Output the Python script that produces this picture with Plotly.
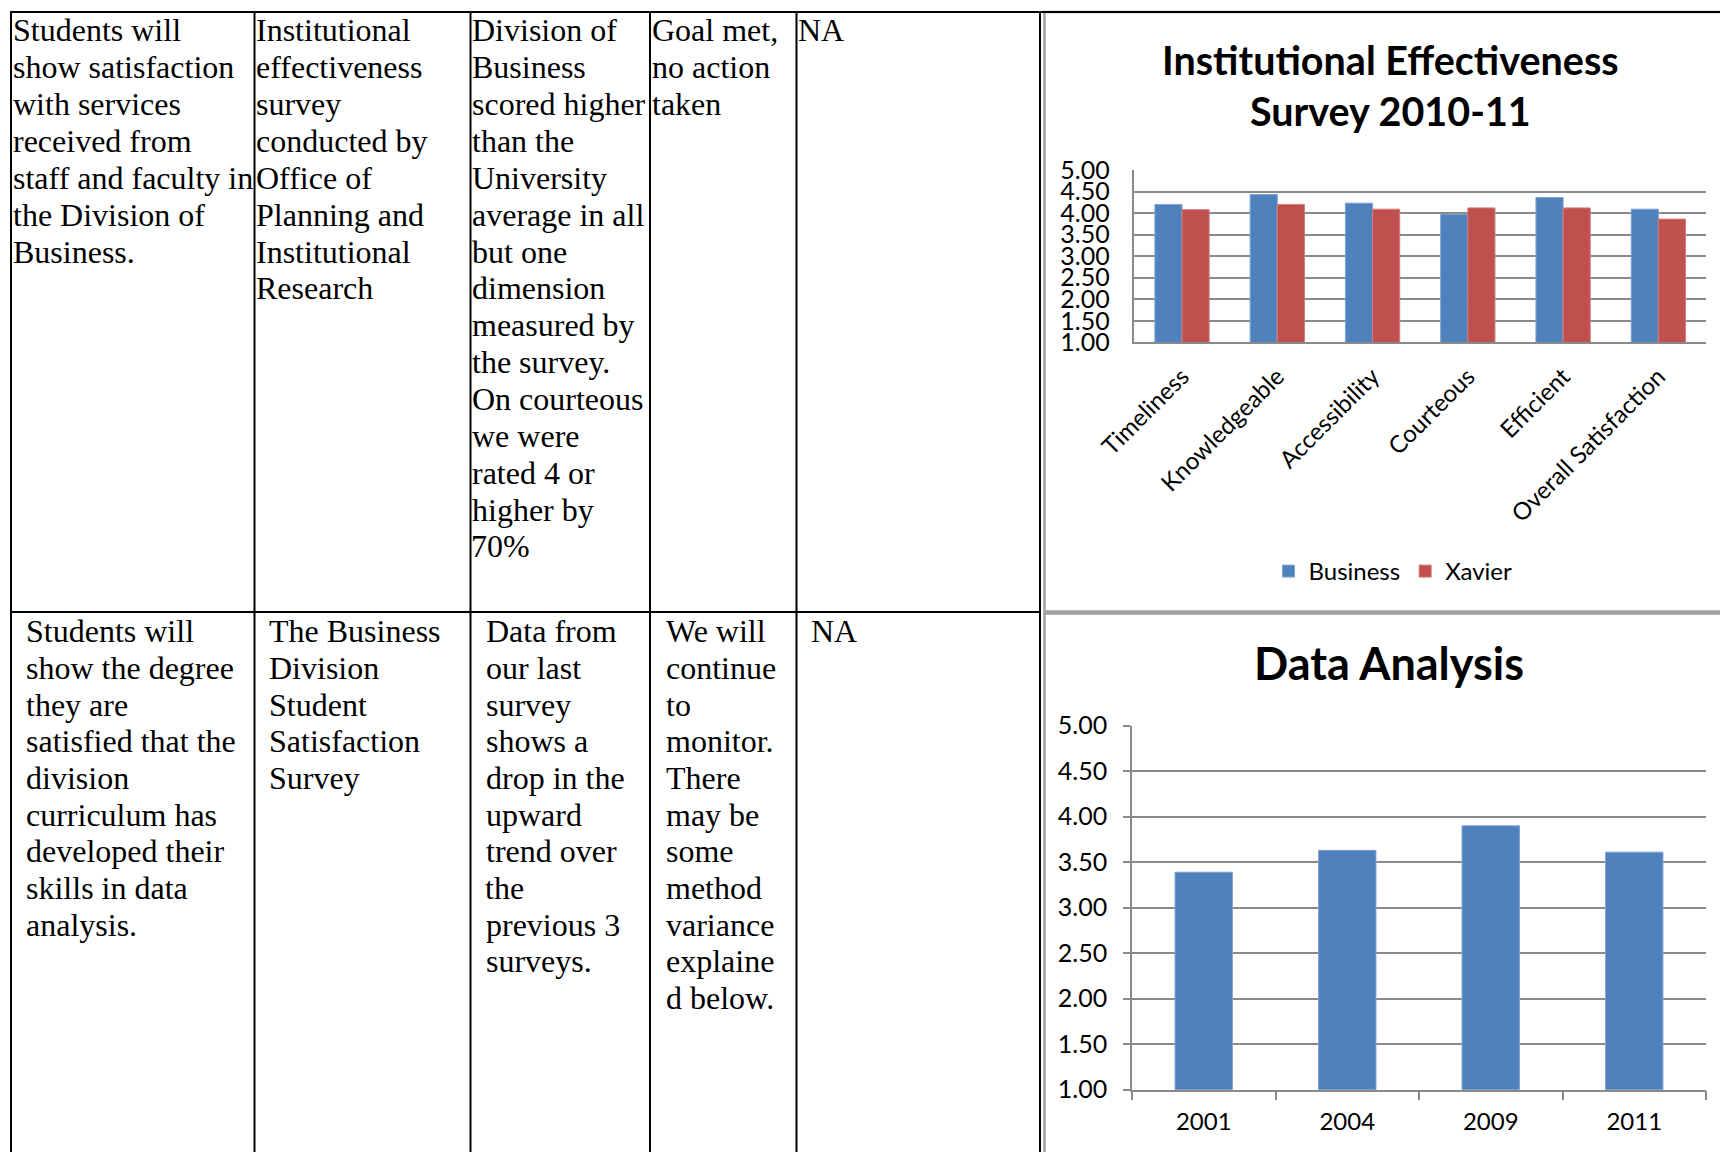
import plotly.graph_objects as go

W, H = 1720, 1152

# ---- survey data -------------------------------------------------------
dimensions = ["Timeliness", "Knowledgeable", "Accessibility",
              "Courteous", "Efficient", "Overall Satisfaction"]
business_scores = [4.20, 4.43, 4.23, 3.97, 4.36, 4.09]
xavier_scores = [4.08, 4.20, 4.09, 4.12, 4.12, 3.86]

survey_years = ["2001", "2004", "2009", "2011"]
data_analysis_scores = [3.39, 3.63, 3.90, 3.61]

rating_ticks = [1.00, 1.50, 2.00, 2.50, 3.00, 3.50, 4.00, 4.50, 5.00]

chart1_title = ["Institutional Effectiveness", "Survey 2010-11"]
chart2_title = "Data Analysis"

# ---- table text, one list of wrapped lines per cell -------------------
row1_cells = [
    ["Students will", "show satisfaction", "with services", "received from",
     "staff and faculty in", "the Division of", "Business."],
    ["Institutional", "effectiveness", "survey", "conducted by", "Office of",
     "Planning and", "Institutional", "Research"],
    ["Division of", "Business", "scored higher", "than the", "University",
     "average in all", "but one", "dimension", "measured by", "the survey.",
     "On courteous", "we were", "rated 4 or", "higher by", "70%"],
    ["Goal met,", "no action", "taken"],
    ["NA"],
]
row2_cells = [
    ["Students will", "show the degree", "they are", "satisfied that the",
     "division", "curriculum has", "developed their", "skills in data",
     "analysis."],
    ["The Business", "Division", "Student", "Satisfaction", "Survey"],
    ["Data from", "our last", "survey", "shows a", "drop in the", "upward",
     "trend over", "the", "previous 3", "surveys."],
    ["We will", "continue", "to", "monitor.", "There", "may be", "some",
     "method", "variance", "explaine", "d below."],
    ["NA"],
]

# ---- layout geometry (pixels) ------------------------------------------
col_lines = [11, 254.5, 470.5, 650, 796.5, 1040]
row_lines = [12, 612]
row1_text_x = [12.5, 255.5, 471.5, 651.5, 797.5]
row2_text_x = [26, 269, 485.5, 666, 811]
row1_base, row1_step = 41.3, 36.85
row2_base, row2_step = 642.0, 36.7

BLUE = "#4F81BD"
RED = "#C0504D"
GRID = "#8a8a8a"
FRAME = "#a0a0a0"
SANS = "Lato"
SERIF = "Liberation Serif"


def px(v):
    return v / W


def py(v):
    return 1 - v / H


fig = go.Figure()

fig.add_trace(go.Bar(x=dimensions, y=business_scores, name="Business",
                     marker=dict(color=BLUE, line=dict(color="#7da2d2", width=1)),
                     xaxis="x", yaxis="y"))
fig.add_trace(go.Bar(x=dimensions, y=xavier_scores, name="Xavier",
                     marker=dict(color=RED, line=dict(color="#d27d7b", width=1)),
                     xaxis="x", yaxis="y"))
fig.add_trace(go.Bar(x=survey_years, y=data_analysis_scores, name="Data Analysis",
                     marker=dict(color=BLUE, line=dict(color="#7da2d2", width=1)),
                     width=0.4, showlegend=False, xaxis="x2", yaxis="y2"))

tick_font = dict(family=SANS, size=24, color="black")
ytick_font = dict(family=SANS, size=25, color="black")

fig.update_layout(
    width=W, height=H,
    margin=dict(l=0, r=0, t=0, b=0, pad=0, autoexpand=False),
    paper_bgcolor="white", plot_bgcolor="white",
    barmode="group", bargap=0.43, bargroupgap=0,
    showlegend=True,
    legend=dict(orientation="h", x=px(1393), xanchor="center",
                y=py(571.5), yanchor="middle",
                font=dict(family=SANS, size=24, color="black"),
                bgcolor="rgba(0,0,0,0)", itemclick=False),
    xaxis=dict(domain=[px(1134.4), px(1706)], anchor="y", type="category",
               range=[-0.5, 5.5], showgrid=False, showline=True,
               linecolor=GRID, linewidth=1.5, ticks="", tickangle=-45,
               tickfont=tick_font, ticklabelstandoff=9, automargin=False,
               fixedrange=True),
    yaxis=dict(domain=[py(342.3), py(170)], anchor="x", range=[1, 5],
               tickvals=rating_ticks, tickformat=".2f", showgrid=True,
               gridcolor=GRID, gridwidth=1.5, showline=True, linecolor=GRID,
               linewidth=1.5, zeroline=False, ticks="", tickfont=ytick_font,
               ticklabelstandoff=18, automargin=False, fixedrange=True),
    xaxis2=dict(domain=[px(1132), px(1706)], anchor="y2", type="category",
                range=[-0.5, 3.5], showgrid=False, showline=True,
                linecolor=GRID, linewidth=1.5, ticks="outside",
                tickson="boundaries", ticklen=9, tickcolor=GRID, tickwidth=1.5,
                tickfont=tick_font, ticklabelstandoff=10, automargin=False,
                fixedrange=True),
    yaxis2=dict(domain=[py(1089.7), py(725.7)], anchor="x2", range=[1, 5],
                tickvals=rating_ticks, tickformat=".2f", showgrid=True,
                gridcolor=GRID, gridwidth=1.5, showline=True, linecolor=GRID,
                linewidth=1.5, zeroline=False, ticks="outside", ticklen=7,
                tickcolor=GRID, tickwidth=1.5, tickfont=ytick_font,
                ticklabelstandoff=11, automargin=False, fixedrange=True),
)

shapes = []
# chart frames
shapes.append(dict(type="rect", xref="paper", yref="paper",
                   x0=px(1044.5), x1=px(W + 20), y0=py(12), y1=py(611.5),
                   line=dict(color=FRAME, width=2.5), layer="below"))
shapes.append(dict(type="rect", xref="paper", yref="paper",
                   x0=px(1044.5), x1=px(W + 20), y0=py(613.5), y1=py(H + 20),
                   line=dict(color=FRAME, width=2.5), layer="below"))
# table grid
for x in col_lines:
    shapes.append(dict(type="line", xref="paper", yref="paper",
                       x0=px(x), x1=px(x), y0=py(row_lines[0] - 1), y1=py(H + 5),
                       line=dict(color="black", width=2)))
shapes.append(dict(type="line", xref="paper", yref="paper",
                   x0=px(col_lines[0] - 1), x1=px(W + 5),
                   y0=py(row_lines[0]), y1=py(row_lines[0]),
                   line=dict(color="black", width=2)))
shapes.append(dict(type="line", xref="paper", yref="paper",
                   x0=px(col_lines[0] - 1), x1=px(col_lines[-1] + 1),
                   y0=py(row_lines[1]), y1=py(row_lines[1]),
                   line=dict(color="black", width=2)))

annotations = []
SERIF_SIZE = 32
mid_offset = 0.338 * SERIF_SIZE


def add_cell_lines(lines, x_left, base, step):
    for i, line in enumerate(lines):
        annotations.append(dict(
            text=line, xref="paper", yref="paper",
            x=px(x_left), y=py(base + i * step - mid_offset),
            xanchor="left", yanchor="middle", showarrow=False,
            borderpad=0, borderwidth=0,
            font=dict(family=SERIF, size=SERIF_SIZE, color="black")))


for lines, x in zip(row1_cells, row1_text_x):
    add_cell_lines(lines, x, row1_base, row1_step)
for lines, x in zip(row2_cells, row2_text_x):
    add_cell_lines(lines, x, row2_base, row2_step)

# chart titles
for line, yc in zip(chart1_title, [59, 111]):
    annotations.append(dict(
        text="<b>%s</b>" % line, xref="paper", yref="paper",
        x=px(1390), y=py(yc), xanchor="center", yanchor="middle",
        showarrow=False, font=dict(family=SANS, size=39.5, color="black")))
annotations.append(dict(
    text="<b>%s</b>" % chart2_title, xref="paper", yref="paper",
    x=px(1389), y=py(663), xanchor="center", yanchor="middle",
    showarrow=False, font=dict(family=SANS, size=45, color="black")))

fig.update_layout(shapes=shapes, annotations=annotations)

fig.write_html("out.html")
